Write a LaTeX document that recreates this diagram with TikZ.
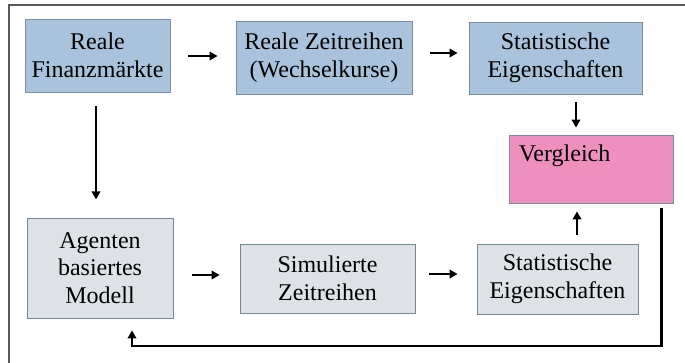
\documentclass[tikz,border=0pt]{standalone}
\usepackage{fontspec}
\setmainfont{Liberation Serif}
\usetikzlibrary{arrows.meta,calc}
\definecolor{bluefill}{RGB}{168,195,219}
\definecolor{blueline}{RGB}{120,142,160}
\definecolor{grayfill}{RGB}{222,226,230}
\definecolor{grayline}{RGB}{115,135,150}
\definecolor{pinkfill}{RGB}{239,143,190}
\definecolor{frameline}{RGB}{90,90,90}
\begin{document}
\begin{tikzpicture}[x=1pt,y=-1pt,
  box/.style={draw, line width=0.8pt, inner sep=0pt, align=center,
    font=\fontsize{24}{27.5}\selectfont, text=black},
  bluebox/.style={box, fill=bluefill, draw=blueline},
  graybox/.style={box, fill=grayfill, draw=grayline},
  pinkbox/.style={box, fill=pinkfill, draw=blueline},
  arr/.style={line width=2.2pt, -{Triangle[length=8pt,width=8.5pt]}},
  fb/.style={line width=2.2pt, -{Triangle[length=8pt,width=8.5pt]}}]
\useasboundingbox (0,0) rectangle (685,362);
\fill[white] (0,0) rectangle (685,362);
\draw[frameline, line width=1.2pt] (9,5) rectangle (700,380);

\node[bluebox, minimum width=145pt, minimum height=73pt] (a) at (97.5,55.5) {Reale\\Finanzmärkte};
\node[bluebox, minimum width=176pt, minimum height=73pt] (b) at (324,57.5) {Reale Zeitreihen\\(Wechselkurse)};
\node[bluebox, minimum width=173pt, minimum height=72pt] (c) at (555.5,58) {Statistische\\Eigenschaften};
\node[pinkbox, minimum width=164pt, minimum height=68pt] (v) at (591,169) {};
\node[anchor=base west, inner sep=0pt, font=\fontsize{24}{27.5}\selectfont] (vt) at ($(v.north west)+(10,27)$) {Vergleich};
\node[graybox, minimum width=146pt, minimum height=100pt] (d) at (100,268) {Agenten\\basiertes\\Modell};
\node[graybox, minimum width=175pt, minimum height=69pt] (e) at (327.5,278.5) {Simulierte\\Zeitreihen};
\node[graybox, minimum width=161pt, minimum height=70pt] (f) at (557.5,279) {Statistische\\Eigenschaften};

\draw[arr] ($(a.east)+(18,0.5)$) -- ($(a.east -| b.west)+(-18,0.5)$);
\draw[arr] ($(b.east)+(18,-4.5)$) -- ($(b.east -| c.west)+(-11,-4.5)$);
\draw[arr] ($(c.south)+(20.5,8)$) -- ($(v.north)+(-15,-7)$);
\draw[arr] ($(a.south)+(-1.5,14)$) -- ($(a.south -| d.north)+(-4,107)$);
\draw[arr] ($(d.east)+(19,7)$) -- ($(d.east -| e.west)+(-20,7)$);
\draw[arr] ($(e.east)+(14,-4.5)$) -- ($(e.east -| f.west)+(-19,-4.5)$);
\draw[arr] ($(f.north)+(19.5,-9)$) -- ($(v.south)+(-14,8)$);
\coordinate (fbs) at ($(v.south east)+(-12,5)$);
\coordinate (fbe) at ($(d.south)+(32,12)$);
\draw[fb] (fbs) -- (fbs |- 0,346) -- (fbe |- 0,346) -- (fbe);
\end{tikzpicture}
\end{document}
